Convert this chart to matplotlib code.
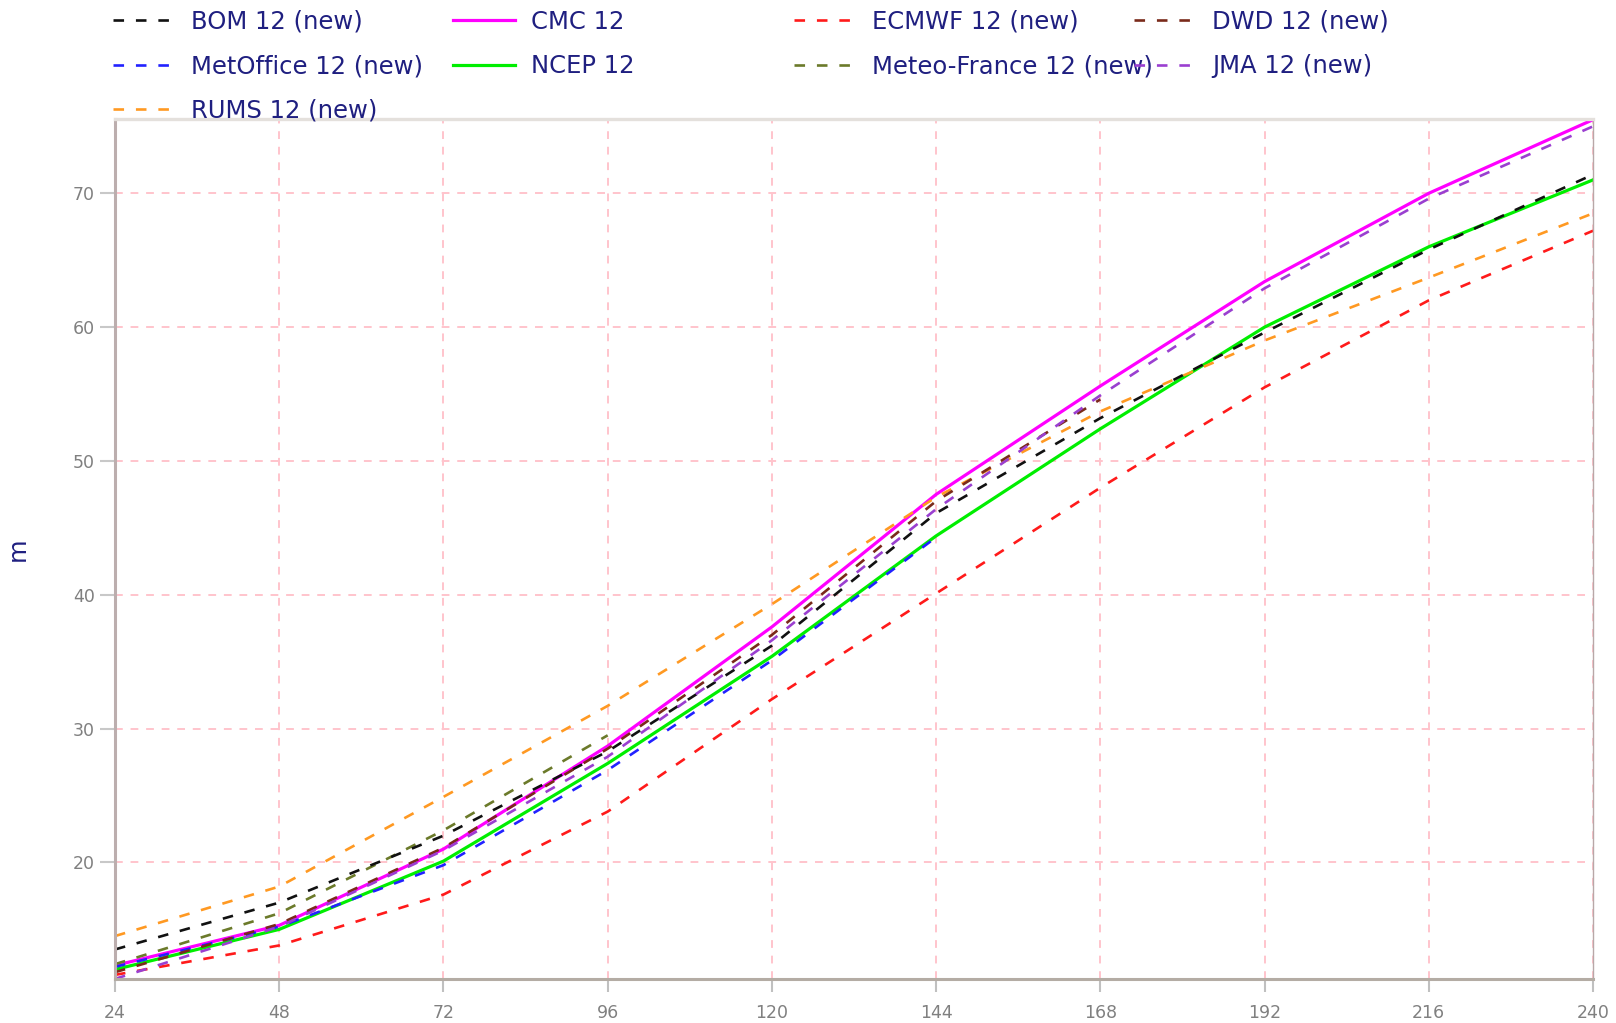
import matplotlib
matplotlib.use("Agg")
import matplotlib.pyplot as plt

# forecast lead time (hours)
hours = [24, 48, 72, 96, 120, 144, 168, 192, 216, 240]

# error values (m), one list per model
bom = [13.5, 17.0, 22.0, 28.3, 36.2, 46.1, 53.2, 59.6, 65.8, 71.4]
cmc = [12.3, 15.3, 21.0, 28.7, 37.6, 47.5, 55.6, 63.4, 70.0, 75.5]
ecmwf = [11.6, 13.8, 17.6, 23.8, 32.2, 40.1, 48.0, 55.5, 62.0, 67.2]
dwd = [11.8, 15.4, 21.1, 28.5, 37.0, 47.0, 54.6]
metoffice = [12.2, 15.2, 19.8, 26.9, 35.1, 44.3]
ncep = [12.0, 15.0, 20.1, 27.4, 35.4, 44.4, 52.4, 60.0, 66.0, 71.0]
meteofrance = [12.4, 16.2, 22.4, 29.5]
jma = [11.3, 15.2, 20.9, 27.9, 36.6, 46.4, 54.9, 62.9, 69.6, 75.0]
rums = [14.5, 18.2, 24.9, 31.7, 39.3, 47.3, 53.7, 59.0, 63.7, 68.5]

navy = '#1f1f80'
dash = (0, (4, 4.5))

fig = plt.figure(figsize=(16.16, 10.23), dpi=100)
ax = fig.add_axes([115 / 1616, 1 - 979.3 / 1023, 1478 / 1616, 860.3 / 1023])

l_cmc, = ax.plot(hours[:len(cmc)], cmc, color='#ff00ff', lw=2.3, label='CMC 12')
l_ncep, = ax.plot(hours[:len(ncep)], ncep, color='#00ee00', lw=2.3, label='NCEP 12')
l_rums, = ax.plot(hours[:len(rums)], rums, color='#ff9922', lw=1.9, ls=dash, label='RUMS 12 (new)')
l_ecmwf, = ax.plot(hours[:len(ecmwf)], ecmwf, color='#ff1a1a', lw=1.9, ls=dash, label='ECMWF 12 (new)')
l_metoffice, = ax.plot(hours[:len(metoffice)], metoffice, color='#2222ff', lw=1.9, ls=dash,
                       label='MetOffice 12 (new)')
l_mf, = ax.plot(hours[:len(meteofrance)], meteofrance, color='#6b7a2a', lw=1.9, ls=dash,
                label='Meteo-France 12 (new)')
l_bom, = ax.plot(hours[:len(bom)], bom, color='#111111', lw=1.9, ls=dash, label='BOM 12 (new)')
l_dwd, = ax.plot(hours[:len(dwd)], dwd, color='#7a2a1a', lw=1.9, ls=dash, label='DWD 12 (new)')
l_jma, = ax.plot(hours[:len(jma)], jma, color='#9a3fd0', lw=1.9, ls=dash, label='JMA 12 (new)')

ax.set_xlim(24, 240)
ax.set_ylim(11.27, 75.55)
ax.set_xticks(hours)
ax.set_yticks([20, 30, 40, 50, 60, 70])
ax.grid(True, color='#ffc4cc', lw=1.4, ls=(0, (4, 4)))
ax.set_axisbelow(True)

ax.tick_params(axis='x', colors='#c0c0c0', length=9, width=1.5, pad=9, labelsize=12.5,
               labelcolor='#808080')
ax.tick_params(axis='y', colors='#c8c8c8', length=11, width=1.5, pad=3.5, labelsize=12.5,
               labelcolor='#808080')

ax.spines['left'].set_color('#bcaeae')
ax.spines['left'].set_linewidth(2.2)
ax.spines['bottom'].set_color('#b4aca4')
ax.spines['bottom'].set_linewidth(2.2)
ax.spines['top'].set_color('#e4e0dc')
ax.spines['top'].set_linewidth(2.4)
ax.spines['right'].set_color('#b8a8a8')
ax.spines['right'].set_linewidth(1.0)

ax.set_ylabel('m', color=navy, fontsize=17.5)
ax.yaxis.set_label_coords(-0.0575, 0.5)

# legend: four fixed-width columns above the plot
columns = [[l_bom, l_metoffice, l_rums], [l_cmc, l_ncep], [l_ecmwf, l_mf], [l_dwd, l_jma]]
col_x = [113, 453, 794, 1134]
for hs, cx in zip(columns, col_x):
    leg = fig.legend(handles=hs, loc='upper left', bbox_to_anchor=(cx / 1616, 1 - 10 / 1023),
                     frameon=False, fontsize=17.5, handlelength=2.55, handletextpad=0.66,
                     labelspacing=0.84, borderpad=0, borderaxespad=0)
    for t in leg.get_texts():
        t.set_color(navy)

plt.savefig('out.png', dpi=100)
